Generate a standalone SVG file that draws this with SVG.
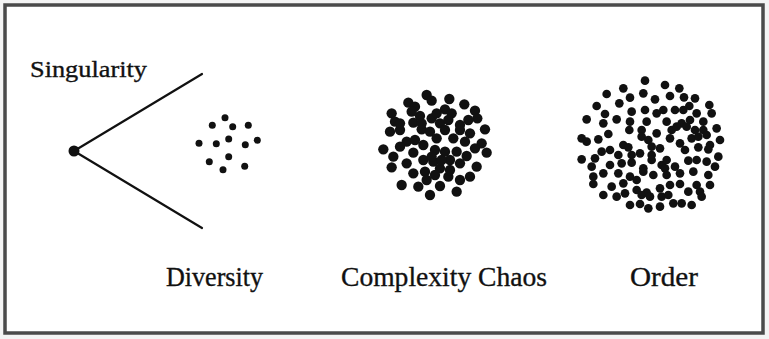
<svg xmlns="http://www.w3.org/2000/svg" width="769" height="339" viewBox="0 0 769 339">
<style>
.lbl{font-family:"Liberation Serif","Times New Roman",serif;fill:#111;stroke:#111;stroke-width:0.35;}
.cx circle{r:15.5px;fill:#111;}
.od circle{r:13px;fill:#111;}
.dv circle{r:3.5px;fill:#111;}
.edge{stroke:#111;stroke-width:2.2;fill:none;stroke-linecap:round;}
</style>
<rect x="0" y="0" width="769" height="339" fill="#f4f4f4"/>
<rect x="5" y="5" width="758" height="328" fill="#ffffff" stroke="#4a4a4a" stroke-width="3.5"/>
<g id="connectors">
<line class="edge" x1="74" y1="151" x2="202" y2="74"/>
<line class="edge" x1="74" y1="151" x2="202" y2="228"/>
</g>
<g id="singularity">
<circle cx="74" cy="151" r="5.5" fill="#111"/>
<text class="lbl" x="30" y="77" font-size="24" textLength="117" lengthAdjust="spacingAndGlyphs">Singularity</text>
</g>
<g id="diversity">
<g class="dv">
<circle cx="225" cy="117.7"/><circle cx="212.3" cy="125.3"/><circle cx="232.7" cy="126.7"/><circle cx="248.3" cy="125.3"/>
<circle cx="199" cy="143.3"/><circle cx="216.3" cy="143.7"/><circle cx="228.7" cy="139"/><circle cx="245.3" cy="144.7"/>
<circle cx="257.3" cy="140.3"/><circle cx="209.3" cy="161.7"/><circle cx="228.7" cy="156.7"/><circle cx="223" cy="169.7"/>
<circle cx="244.7" cy="166.3"/>
</g>
<text class="lbl" x="166" y="286" font-size="28" textLength="97" lengthAdjust="spacingAndGlyphs">Diversity</text>
</g>
<g id="complexity-chaos">
<g class="cx" transform="translate(360 80) scale(0.3333)">
<circle cx="200" cy="45"/><circle cx="145" cy="68"/><circle cx="165" cy="80"/><circle cx="215" cy="62"/>
<circle cx="268" cy="57"/><circle cx="313" cy="73"/><circle cx="95" cy="100"/><circle cx="255" cy="88"/>
<circle cx="275" cy="100"/><circle cx="345" cy="92"/><circle cx="352" cy="115"/><circle cx="105" cy="125"/>
<circle cx="160" cy="128"/><circle cx="180" cy="108"/><circle cx="215" cy="115"/><circle cx="240" cy="130"/>
<circle cx="265" cy="120"/><circle cx="325" cy="120"/><circle cx="90" cy="155"/><circle cx="120" cy="150"/>
<circle cx="185" cy="148"/><circle cx="210" cy="155"/><circle cx="255" cy="150"/><circle cx="300" cy="150"/>
<circle cx="330" cy="160"/><circle cx="375" cy="148"/><circle cx="140" cy="185"/><circle cx="165" cy="180"/>
<circle cx="190" cy="195"/><circle cx="230" cy="175"/><circle cx="280" cy="175"/><circle cx="315" cy="185"/>
<circle cx="365" cy="190"/><circle cx="70" cy="208"/><circle cx="120" cy="200"/><circle cx="160" cy="218"/>
<circle cx="225" cy="210"/><circle cx="255" cy="215"/><circle cx="290" cy="215"/><circle cx="320" cy="228"/>
<circle cx="345" cy="205"/><circle cx="380" cy="218"/><circle cx="100" cy="230"/><circle cx="140" cy="250"/>
<circle cx="190" cy="240"/><circle cx="220" cy="245"/><circle cx="240" cy="265"/><circle cx="270" cy="240"/>
<circle cx="300" cy="250"/><circle cx="350" cy="260"/><circle cx="95" cy="262"/><circle cx="160" cy="280"/>
<circle cx="195" cy="275"/><circle cx="225" cy="285"/><circle cx="265" cy="290"/><circle cx="300" cy="300"/>
<circle cx="330" cy="290"/><circle cx="125" cy="315"/><circle cx="175" cy="320"/><circle cx="200" cy="300"/>
<circle cx="240" cy="318"/><circle cx="290" cy="335"/><circle cx="210" cy="345"/><circle cx="230" cy="100"/>
<circle cx="120" cy="130"/><circle cx="300" cy="135"/><circle cx="270" cy="270"/><circle cx="185" cy="130"/>
<circle cx="155" cy="95"/><circle cx="215" cy="230"/><circle cx="245" cy="240"/>
</g>
<text class="lbl" x="341" y="286" font-size="28" textLength="206" lengthAdjust="spacingAndGlyphs">Complexity Chaos</text>
</g>
<g id="order">
<g class="od" transform="translate(560 60) scale(0.3333)">
<circle cx="255" cy="62"/><circle cx="315" cy="75"/><circle cx="358" cy="85"/><circle cx="190" cy="85"/>
<circle cx="140" cy="102"/><circle cx="210" cy="113"/><circle cx="250" cy="100"/><circle cx="285" cy="118"/>
<circle cx="330" cy="108"/><circle cx="372" cy="112"/><circle cx="405" cy="115"/>
<circle cx="110" cy="138"/><circle cx="178" cy="130"/><circle cx="215" cy="155"/><circle cx="255" cy="150"/>
<circle cx="290" cy="160"/><circle cx="310" cy="150"/><circle cx="345" cy="150"/><circle cx="370" cy="150"/>
<circle cx="388" cy="138"/><circle cx="410" cy="160"/><circle cx="448" cy="135"/><circle cx="455" cy="160"/>
<circle cx="80" cy="178"/><circle cx="135" cy="162"/><circle cx="170" cy="178"/><circle cx="210" cy="185"/>
<circle cx="260" cy="185"/><circle cx="320" cy="185"/><circle cx="365" cy="190"/><circle cx="390" cy="180"/>
<circle cx="430" cy="185"/><circle cx="130" cy="190"/><circle cx="208" cy="210"/><circle cx="245" cy="210"/>
<circle cx="290" cy="220"/><circle cx="335" cy="210"/><circle cx="350" cy="200"/><circle cx="380" cy="200"/>
<circle cx="405" cy="210"/><circle cx="430" cy="210"/><circle cx="470" cy="205"/>
<circle cx="65" cy="235"/><circle cx="80" cy="245"/><circle cx="115" cy="238"/><circle cx="145" cy="222"/>
<circle cx="190" cy="255"/><circle cx="245" cy="230"/><circle cx="265" cy="240"/><circle cx="275" cy="260"/>
<circle cx="330" cy="235"/><circle cx="360" cy="250"/><circle cx="395" cy="235"/><circle cx="415" cy="230"/>
<circle cx="440" cy="225"/><circle cx="480" cy="240"/><circle cx="450" cy="255"/>
<circle cx="125" cy="275"/><circle cx="105" cy="295"/><circle cx="175" cy="285"/><circle cx="205" cy="262"/>
<circle cx="215" cy="285"/><circle cx="240" cy="280"/><circle cx="275" cy="285"/><circle cx="300" cy="265"/>
<circle cx="375" cy="270"/><circle cx="415" cy="262"/><circle cx="445" cy="268"/><circle cx="275" cy="300"/>
<circle cx="65" cy="298"/><circle cx="150" cy="270"/>
<circle cx="95" cy="320"/><circle cx="150" cy="315"/><circle cx="215" cy="308"/><circle cx="250" cy="325"/>
<circle cx="305" cy="315"/><circle cx="315" cy="325"/><circle cx="345" cy="320"/><circle cx="385" cy="302"/>
<circle cx="410" cy="300"/><circle cx="440" cy="305"/><circle cx="475" cy="290"/><circle cx="465" cy="320"/>
<circle cx="185" cy="310"/><circle cx="320" cy="300"/>
<circle cx="100" cy="350"/><circle cx="130" cy="340"/><circle cx="175" cy="340"/><circle cx="210" cy="350"/>
<circle cx="250" cy="335"/><circle cx="280" cy="345"/><circle cx="320" cy="345"/><circle cx="360" cy="340"/>
<circle cx="400" cy="335"/><circle cx="445" cy="345"/><circle cx="450" cy="375"/><circle cx="230" cy="360"/>
<circle cx="100" cy="372"/><circle cx="155" cy="380"/><circle cx="190" cy="370"/><circle cx="230" cy="390"/>
<circle cx="260" cy="398"/><circle cx="300" cy="385"/><circle cx="330" cy="375"/><circle cx="360" cy="372"/>
<circle cx="385" cy="395"/><circle cx="410" cy="375"/><circle cx="420" cy="395"/>
<circle cx="130" cy="405"/><circle cx="170" cy="410"/><circle cx="195" cy="400"/><circle cx="245" cy="405"/>
<circle cx="270" cy="410"/><circle cx="305" cy="410"/><circle cx="325" cy="405"/><circle cx="340" cy="430"/>
<circle cx="365" cy="430"/><circle cx="395" cy="435"/><circle cx="425" cy="410"/><circle cx="210" cy="435"/>
<circle cx="240" cy="432"/><circle cx="265" cy="445"/><circle cx="300" cy="440"/>
</g>
<text class="lbl" x="630" y="286" font-size="28" textLength="68" lengthAdjust="spacingAndGlyphs">Order</text>
</g>
</svg>
